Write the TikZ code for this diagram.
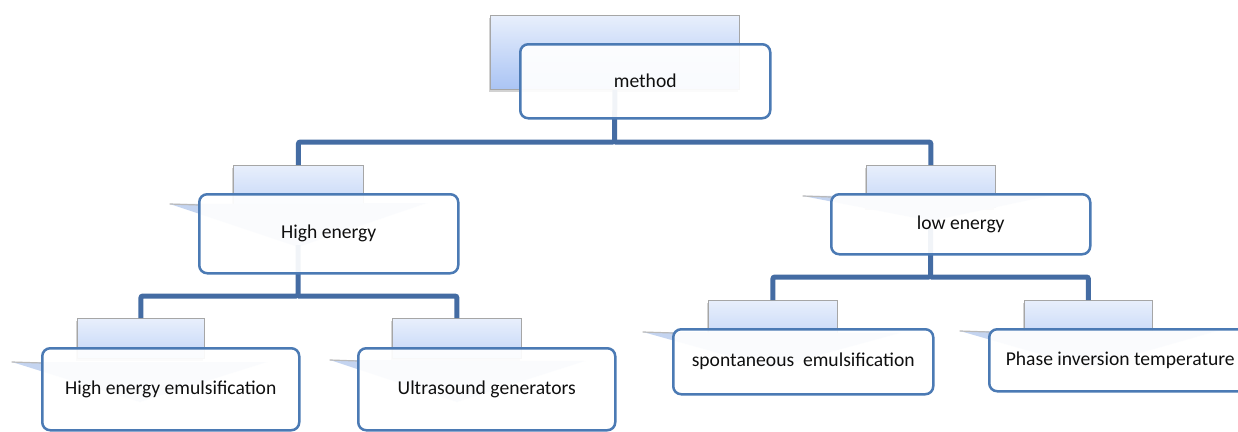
\documentclass[tikz,border=0pt]{standalone}
\usepackage{fontspec}
\setmainfont{Carlito}
\usetikzlibrary{shadows}
\definecolor{conncol}{RGB}{68,108,163}
\definecolor{boxcol}{RGB}{75,122,180}
\definecolor{backtop}{RGB}{232,239,252}
\definecolor{backbot}{RGB}{196,214,247}
\definecolor{mbackbot}{RGB}{170,196,244}
\definecolor{tailcol}{RGB}{196,212,240}
\definecolor{txtcol}{RGB}{15,15,15}
\tikzset{
  backbox/.style={draw=gray!70, line width=0.8pt, rectangle, inner sep=0pt, anchor=north west,
    top color=backtop, bottom color=backbot,
    drop shadow={shadow xshift=-1.5pt, shadow yshift=-2.5pt, opacity=0.35}},
  frontbox/.style={draw=boxcol, line width=2.5pt, rounded corners=8pt, fill=white, fill opacity=0.93,
    text opacity=1, inner sep=0pt, anchor=north west, font=\fontsize{19.6}{22}\selectfont, text=txtcol},
  conn/.style={draw=conncol, line width=5pt, rounded corners=2pt},
  chevron/.style={fill=tailcol},
  tailedge/.style={draw=gray!55, line width=1.2pt, line cap=round}
}
\begin{document}
\begin{tikzpicture}[x=1pt,y=-1pt]
\useasboundingbox[fill=white] (0,0) rectangle (1238,431);
% back boxes
\node[backbox, bottom color=mbackbot, minimum width=249pt, minimum height=74pt] (mb) at (490,15) {};
\node[backbox, minimum width=130pt, minimum height=42pt] (hb) at (233,165) {};
\node[backbox, minimum width=129pt, minimum height=42pt] (lb) at (866,165) {};
\node[backbox, minimum width=127pt, minimum height=40pt] (ab) at (77,318) {};
\node[backbox, minimum width=129pt, minimum height=40pt] (bb) at (392,318) {};
\node[backbox, minimum width=129pt, minimum height=40pt] (cb) at (708,300) {};
\node[backbox, minimum width=128pt, minimum height=40pt] (db) at (1024,300) {};
% chevrons with tails
\fill[chevron] (170,204) -- (427,203) -- (298,247) -- cycle;
\draw[tailedge] (170,204) -- (199,205);
\fill[chevron] (803,196) -- (1053,195) -- (931,221) -- cycle;
\draw[tailedge] (803,196) -- (831,197);
\fill[chevron] (12,362) -- (267,362) -- (140,402) -- cycle;
\draw[tailedge] (12,362) -- (42,363);
\fill[chevron] (330,360) -- (585,361) -- (457,402) -- cycle;
\draw[tailedge] (330,360) -- (358,361);
\fill[chevron] (643,332) -- (900,333) -- (772,368) -- cycle;
\draw[tailedge] (643,332) -- (673,333);
\fill[chevron] (960,331) -- (1217,331) -- (1088,368) -- cycle;
\draw[tailedge] (960,331) -- (989,332);
% connectors
\coordinate (jm) at (614.5,142);
\coordinate (hs) at (298,245);
\coordinate (jh) at (298,296);
\coordinate (ls) at (930.5,228);
\coordinate (jl) at (930.5,277);
\draw[conn] (mb.south) -- (jm) -| (hb.north);
\draw[conn] (jm) -| (lb.north);
\draw[conn] (hs) -- (jh) -| (ab.north);
\draw[conn] (jh) -| (bb.north);
\draw[conn] (ls) -- (jl) -| (cb.north);
\draw[conn] (jl) -| (db.north);
% front boxes
\node[frontbox, minimum width=250pt, minimum height=74pt] (m) at (519,43) {method};
\node[frontbox, minimum width=259pt, minimum height=79pt] (h) at (198,193) {High energy};
\node[frontbox, minimum width=259pt, minimum height=60pt] (l) at (830,193) {low energy};
\node[frontbox, minimum width=257pt, minimum height=82pt] (a) at (41,347) {High energy emulsification};
\node[frontbox, minimum width=257pt, minimum height=82pt] (b) at (357,347) {Ultrasound generators};
\node[frontbox, minimum width=260pt, minimum height=65pt] (c) at (672,328) {spontaneous~ emulsification};
\node[frontbox, minimum width=262pt, minimum height=62pt] (d) at (988,328) {Phase inversion temperature};
\end{tikzpicture}
\end{document}
